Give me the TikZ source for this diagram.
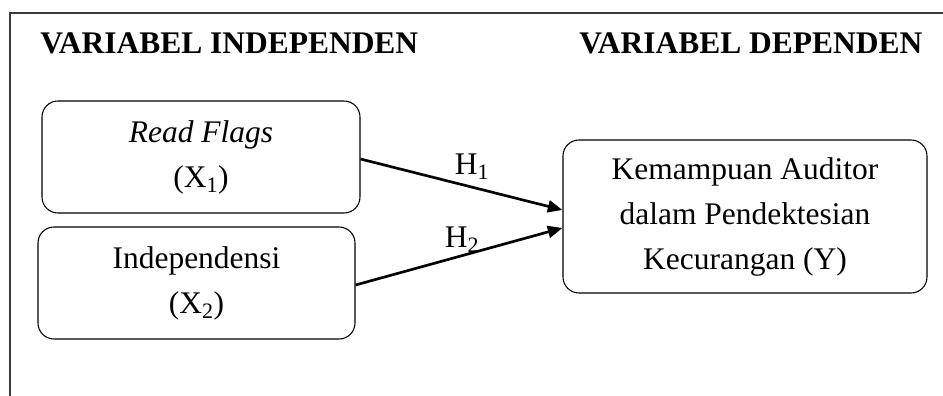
\documentclass[tikz,border=0pt]{standalone}
\usepackage{fontspec}
\setmainfont{Liberation Serif}
\usepackage{tikz}
\usetikzlibrary{arrows.meta}

\tikzset{
    varbox/.style={draw, line width=0.8pt, rounded corners=12pt, align=center, inner sep=0pt},
    hyparrow/.style={line width=2pt, -{Triangle[length=11pt,width=9pt]}},
    headtext/.style={anchor=base west, inner sep=0pt, font=\bfseries}
}

\begin{document}
\begin{tikzpicture}[x=0.75pt,y=0.75pt,yscale=-1,xscale=1]
    \fontsize{23.6}{33.75}\selectfont
    \useasboundingbox (0,0) rectangle (943,396);

    %Frame
    \draw [line width=0.9pt, color={rgb, 255:red, 60; green, 60; blue, 60 }] (943,13) -- (10,13) -- (10,396) ;

    % Text Node
    \node [headtext] (indhead) at (40,53) {VARIABEL INDEPENDEN};
    % Text Node
    \node [headtext] (dephead) at (579,53) {VARIABEL DEPENDEN};

    %Rounded Rect
    \node [varbox, minimum width=318*0.75pt, minimum height=112*0.75pt] (readflags) at (201,157) {\textit{Read Flags}\\(X\textsubscript{1})};
    %Rounded Rect
    \node [varbox, minimum width=317*0.75pt, minimum height=112*0.75pt] (indep) at (196.5,283) {Independensi\\(X\textsubscript{2})};
    %Rounded Rect
    \node [varbox, minimum width=364*0.75pt, minimum height=153*0.75pt] (kemampuan) at (745,216.5) {Kemampuan Auditor\\dalam Pendektesian\\Kecurangan (Y)};

    %Straight Lines (yshift is flipped by yscale=-1)
    \draw [hyparrow] ([yshift=1.5pt]readflags.east) -- ([yshift=-4.9pt]kemampuan.west) ;
    \draw [hyparrow] ([yshift=1.5pt]indep.east) -- ([yshift=8.6pt]kemampuan.west) ;

    % Text Node
    \node [inner sep=0pt] (hone) at (472,167) {H\textsubscript{1}};
    % Text Node
    \node [inner sep=0pt] (htwo) at (462,240) {H\textsubscript{2}};

\end{tikzpicture}
\end{document}
